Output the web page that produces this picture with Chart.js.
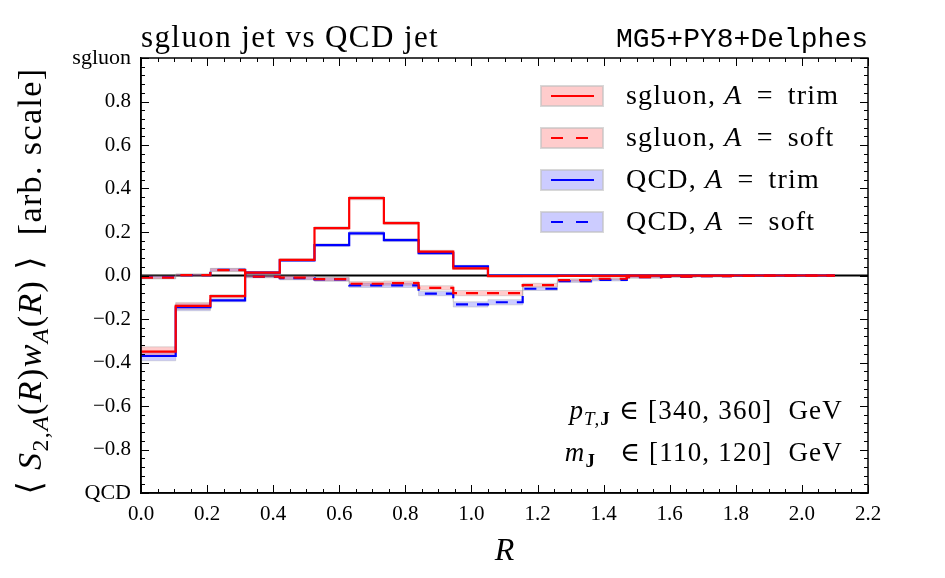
<!DOCTYPE html>
<html>
<head>
<meta charset="utf-8">
<script src="https://cdn.jsdelivr.net/npm/chart.js@4.4.0/dist/chart.umd.min.js"></script>
<style>
  html, body { margin: 0; padding: 0; background: #fff; }
</style>
</head>
<body>
<canvas id="chart" width="945" height="578"></canvas>
<script>
// bin edges in R (20 bins)
var binEdges = [0.0, 0.105, 0.21, 0.315, 0.42, 0.525, 0.63, 0.735, 0.84, 0.945, 1.05,
                1.155, 1.26, 1.365, 1.47, 1.575, 1.68, 1.785, 1.89, 1.995, 2.1];

var sgluonTrim = [-0.350, -0.140, -0.095, 0.013, 0.072, 0.218, 0.356, 0.241, 0.110, 0.033,
                  -0.003, -0.003, -0.002, -0.002, -0.001, -0.001, -0.001, 0.000, 0.000, 0.000];
var sgluonSoft = [-0.010, 0.002, 0.025, -0.005, -0.010, -0.017, -0.038, -0.035, -0.057, -0.081,
                  -0.081, -0.044, -0.021, -0.015, -0.008, -0.005, -0.003, -0.002, -0.001, -0.001];
var qcdTrim    = [-0.370, -0.146, -0.114, 0.013, 0.070, 0.140, 0.194, 0.163, 0.103, 0.042,
                  0.000, 0.000, 0.000, 0.000, 0.000, 0.000, 0.000, 0.000, 0.000, 0.000];
var qcdSoft    = [-0.008, 0.002, 0.026, -0.005, -0.012, -0.018, -0.045, -0.045, -0.083, -0.133,
                  -0.123, -0.061, -0.026, -0.020, -0.008, -0.005, -0.003, -0.002, -0.001, 0.000];

// half widths of the shaded uncertainty bands
var trimErr = [0.022, 0.016, 0.007, 0.005, 0.005, 0.006, 0.008, 0.007, 0.006, 0.005,
               0.003, 0.002, 0.002, 0.002, 0.002, 0.002, 0.002, 0.002, 0.002, 0.002];
var softErr = [0.006, 0.005, 0.007, 0.005, 0.008, 0.008, 0.010, 0.010, 0.010, 0.012,
               0.012, 0.008, 0.006, 0.005, 0.004, 0.003, 0.003, 0.002, 0.002, 0.002];

var xTicks = [0.0, 0.2, 0.4, 0.6, 0.8, 1.0, 1.2, 1.4, 1.6, 1.8, 2.0, 2.2];
var yTickNames = { "1.0": "sgluon", "-1.0": "QCD" };

var legendLabels = ["sgluon", "sgluon", "QCD", "QCD"];
var legendModes = ["trim", "soft", "trim", "soft"];

var RED = "#ff0000", BLUE = "#0000ff";
var RED_BAND = "rgba(255,0,0,0.2)", BLUE_BAND = "rgba(0,0,255,0.2)";
var SERIF = "'Liberation Serif', 'DejaVu Serif', serif";

function steps(vals) {
  var pts = [];
  for (var i = 0; i < vals.length; i++) {
    pts.push({ x: binEdges[i], y: vals[i] });
  }
  pts.push({ x: binEdges[vals.length], y: vals[vals.length - 1] });
  return pts;
}

function shifted(vals, errs, sign) {
  return vals.map(function(v, i) { return v + sign * errs[i]; });
}

function lineSet(vals, color, dashed) {
  return {
    data: steps(vals), borderColor: color, borderWidth: 2.2,
    borderDash: dashed ? [12, 9] : [], stepped: true, pointRadius: 0,
    fill: false, order: 0
  };
}

function bandSets(vals, errs, fillColor) {
  var edge = "rgba(160,160,160,0.35)";
  return [
    { data: steps(shifted(vals, errs, -1)), borderColor: edge, borderWidth: 1,
      stepped: true, pointRadius: 0, fill: false, order: 1 },
    { data: steps(shifted(vals, errs, 1)), borderColor: edge, borderWidth: 1,
      stepped: true, pointRadius: 0, fill: "-1", backgroundColor: fillColor, order: 1 }
  ];
}

var datasets = [
  lineSet(sgluonTrim, RED, false),
  lineSet(sgluonSoft, RED, true),
  lineSet(qcdTrim, BLUE, false),
  lineSet(qcdSoft, BLUE, true)
].concat(
  bandSets(sgluonTrim, trimErr, RED_BAND),
  bandSets(sgluonSoft, softErr, RED_BAND),
  bandSets(qcdTrim, trimErr, BLUE_BAND),
  bandSets(qcdSoft, softErr, BLUE_BAND)
);

// text made of pieces: {t, i: italic, b: bold, sub: subscript}
function setPartFont(ctx, p, size) {
  var s = p.sub ? size * 0.7 : size;
  ctx.font = (p.i ? "italic " : "") + (p.b ? "bold " : "") + s + "px " + SERIF;
}

function drawRich(ctx, parts, x, y, size, align, spacing) {
  ctx.letterSpacing = (spacing || 0) + "px";
  var w = 0;
  parts.forEach(function(p) { setPartFont(ctx, p, size); w += ctx.measureText(p.t).width; });
  var cx = align === "right" ? x - w : align === "center" ? x - w / 2 : x;
  ctx.textBaseline = "alphabetic";
  ctx.textAlign = "left";
  parts.forEach(function(p) {
    setPartFont(ctx, p, size);
    ctx.fillText(p.t, cx, p.sub ? y + size * 0.22 : y);
    cx += ctx.measureText(p.t).width;
  });
  ctx.letterSpacing = "0px";
}

var decorations = {
  id: "decorations",
  beforeDatasetsDraw: function(chart) {
    var ctx = chart.ctx, a = chart.chartArea, y0 = chart.scales.y.getPixelForValue(0);
    ctx.save();
    ctx.strokeStyle = "#000";
    ctx.lineWidth = 2;
    ctx.beginPath();
    ctx.moveTo(a.left, y0);
    ctx.lineTo(a.right, y0);
    ctx.stroke();
    ctx.restore();
  },
  afterDraw: function(chart) {
    var ctx = chart.ctx, a = chart.chartArea;
    var xs = chart.scales.x, ys = chart.scales.y;
    ctx.save();
    ctx.strokeStyle = "#000";
    ctx.fillStyle = "#000";

    // frame
    ctx.lineWidth = 1.5;
    ctx.strokeRect(a.left, a.top, a.right - a.left, a.bottom - a.top);

    // inward ticks on all sides
    ctx.lineWidth = 1;
    ctx.beginPath();
    for (var i = 0; i <= 44; i++) {
      var px = Math.round(xs.getPixelForValue(i * 0.05)) + 0.5;
      var len = i % 4 === 0 ? 8 : 4;
      ctx.moveTo(px, a.bottom); ctx.lineTo(px, a.bottom - len);
      ctx.moveTo(px, a.top); ctx.lineTo(px, a.top + len);
    }
    for (var j = 0; j <= 50; j++) {
      var py = Math.round(ys.getPixelForValue(-1 + j * 0.04)) + 0.5;
      var ylen = j % 5 === 0 ? 8 : 4;
      ctx.moveTo(a.left, py); ctx.lineTo(a.left + ylen, py);
      ctx.moveTo(a.right, py); ctx.lineTo(a.right - ylen, py);
    }
    ctx.stroke();

    // titles
    drawRich(ctx, [{ t: "sgluon jet vs QCD jet" }], a.left, 47, 31, "left", 1.4);
    ctx.font = "28px 'Liberation Mono', 'DejaVu Sans Mono', monospace";
    ctx.textAlign = "right";
    ctx.fillText("MG5+PY8+Delphes", a.right, 47);

    // x axis title
    ctx.font = "italic 32px " + SERIF;
    ctx.textAlign = "center";
    ctx.fillText("R", (a.left + a.right) / 2, 560);

    // y axis title (rotated)
    ctx.save();
    ctx.translate(41, 281);
    ctx.rotate(-Math.PI / 2);
    drawRich(ctx, [
      { t: "\u27E8 " }, { t: "S", i: true }, { t: "2,", sub: true }, { t: "A", i: true, sub: true },
      { t: "(" }, { t: "R", i: true }, { t: ")" }, { t: "w", i: true }, { t: "A", i: true, sub: true },
      { t: "(" }, { t: "R", i: true }, { t: ")" }, { t: " \u27E9  [arb. scale]" }
    ], 0, 0, 34, "center", 1.4);
    ctx.restore();

    // legend
    for (var k = 0; k < 4; k++) {
      var ry = 96 + k * 42;
      var red = k < 2;
      ctx.fillStyle = red ? RED_BAND : BLUE_BAND;
      ctx.fillRect(541, ry - 10, 62, 20);
      ctx.strokeStyle = "rgba(190,190,190,0.6)";
      ctx.lineWidth = 2;
      ctx.strokeRect(541, ry - 10, 62, 20);
      ctx.strokeStyle = red ? RED : BLUE;
      ctx.lineWidth = 2;
      ctx.setLineDash(legendModes[k] === "soft" ? [12, 13] : []);
      ctx.beginPath();
      ctx.moveTo(551, ry); ctx.lineTo(594, ry);
      ctx.stroke();
      ctx.setLineDash([]);
      ctx.fillStyle = "#000";
      drawRich(ctx, [{ t: legendLabels[k] + ", " }, { t: "A", i: true }, { t: " \u2006=\u2006 " + legendModes[k] }],
        626, ry + 8, 28, "left", 1.2);
    }

    // kinematic cuts
    drawRich(ctx, [{ t: "p", i: true }, { t: "T,", i: true, sub: true }, { t: "J", b: true, sub: true },
      { t: " \u2208 [340, 360]  GeV" }], 843, 419, 27, "right", 1.2);
    drawRich(ctx, [{ t: "m", i: true }, { t: "J", b: true, sub: true },
      { t: "   \u2208 [110, 120]  GeV" }], 843, 461, 27, "right", 1.2);

    ctx.restore();
  }
};

var tickFont = function(c) {
  var v = c.tick ? c.tick.value : 0;
  return { family: SERIF, size: Math.abs(Math.abs(v) - 1) < 1e-6 ? 22 : 21 };
};

new Chart(document.getElementById("chart"), {
  type: "line",
  data: { datasets: datasets },
  options: {
    responsive: false,
    animation: false,
    devicePixelRatio: 1,
    layout: { padding: { top: 58, right: 77, left: 0, bottom: 0 } },
    plugins: { legend: { display: false }, tooltip: { enabled: false }, title: { display: false } },
    scales: {
      x: {
        type: "linear", min: 0, max: 2.2,
        afterBuildTicks: function(s) { s.ticks = xTicks.map(function(v) { return { value: v }; }); },
        afterFit: function(s) { s.height = 85; },
        grid: { display: false, drawTicks: false },
        border: { display: true, color: "#000", width: 1.5 },
        ticks: {
          color: "#000", padding: 9, maxRotation: 0, autoSkip: false,
          font: { family: SERIF, size: 21 },
          callback: function(v) { return v.toFixed(1); }
        }
      },
      y: {
        type: "linear", min: -1, max: 1,
        ticks: {
          stepSize: 0.2, color: "#000", padding: 10, autoSkip: false,
          font: tickFont,
          callback: function(v) {
            var key = v.toFixed(1);
            if (yTickNames[key]) return yTickNames[key];
            if (key === "-0.0") key = "0.0";
            return key.replace("-", "\u2212");
          }
        },
        afterFit: function(s) { s.width = 141; },
        grid: { display: false, drawTicks: false },
        border: { display: true, color: "#000", width: 1.5 }
      }
    }
  },
  plugins: [decorations]
});
</script>
</body>
</html>
